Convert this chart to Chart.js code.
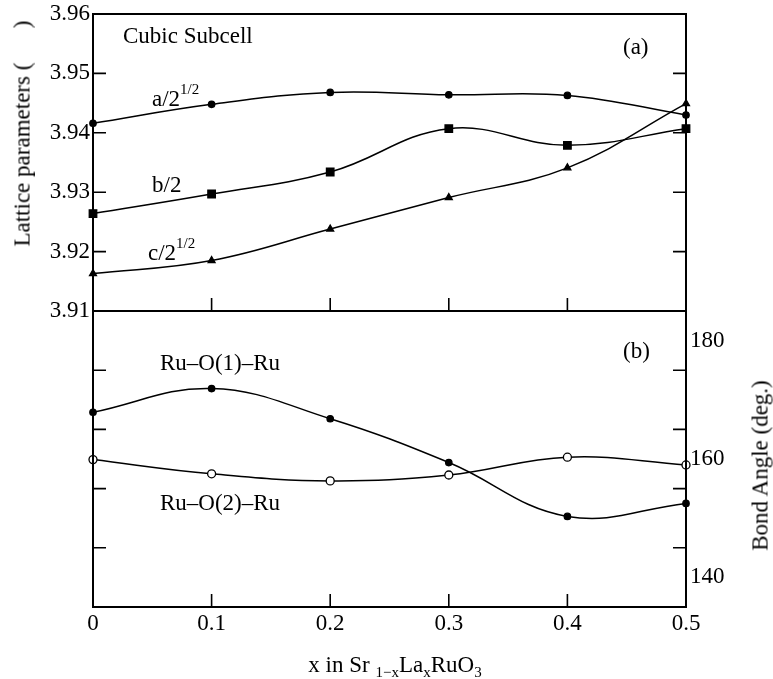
<!DOCTYPE html>
<html>
<head>
<meta charset="utf-8">
<script src="https://cdn.jsdelivr.net/npm/chart.js@4.4.1/dist/chart.umd.min.js"></script>
<style>
  html, body { margin: 0; padding: 0; background: #fff; }
  #wrap { position: relative; width: 773px; height: 679px; overflow: hidden; font-family: "Liberation Serif", "Times New Roman", serif; color: #000; }
  .box { position: absolute; left: 0; width: 773px; }
  .t { position: absolute; font-size: 23px; line-height: 23px; white-space: pre; }
  .sup { position: relative; font-size: 15px; top: -12px; }
  .sub { position: relative; font-size: 15px; top: 5px; }
  .rot { position: absolute; font-size: 23px; line-height: 23px; width: 320px; text-align: center; white-space: pre; transform: rotate(-90deg); transform-origin: 50% 50%; }
</style>
</head>
<body>
<div id="wrap">
  <div class="box" style="top:0;height:330px;"><canvas id="top"></canvas></div>
  <div class="box" style="top:311px;height:368px;"><canvas id="bot"></canvas></div>

  <div class="t" style="left:123px;top:24px;">Cubic Subcell</div>
  <div class="t" style="left:623px;top:35px;">(a)</div>
  <div class="t" style="left:152px;top:87px;">a/2<span class="sup">1/2</span></div>
  <div class="t" style="left:152px;top:173px;">b/2</div>
  <div class="t" style="left:148px;top:241px;">c/2<span class="sup">1/2</span></div>
  <div class="t" style="left:623px;top:339px;">(b)</div>
  <div class="t" style="left:160px;top:351px;">Ru–O(1)–Ru</div>
  <div class="t" style="left:160px;top:491px;">Ru–O(2)–Ru</div>
  <div class="t" style="left:0;width:790px;text-align:center;top:653px;">x in Sr <span class="sub">1−x</span>La<span class="sub">x</span>RuO<span class="sub">3</span></div>
  <div class="rot" style="left:-138px;top:122px;">Lattice parameters (      )</div>
  <div class="rot" style="left:600px;top:454px;">Bond Angle (deg.)</div>
</div>
<script>
// ---- data ----
const xValues = [0, 0.1, 0.2, 0.3, 0.4, 0.5];
const aOverRoot2 = [3.9416, 3.9448, 3.9468, 3.9464, 3.9463, 3.9430];
const bOver2     = [3.9264, 3.9297, 3.9334, 3.9407, 3.9379, 3.9407];
const cOverRoot2 = [3.9163, 3.9185, 3.9238, 3.9291, 3.9341, 3.9449];
const ruO1Ru = [167.9, 171.9, 166.8, 159.4, 150.3, 152.5];
const ruO2Ru = [159.9, 157.5, 156.3, 157.3, 160.3, 159.0];
const latticeTicks = [3.91, 3.92, 3.93, 3.94, 3.95, 3.96];
const angleTickLabels = [140, 160, 180];

const FONT = { family: "'Liberation Serif', 'Times New Roman', serif", size: 23 };
const pts = (ys) => xValues.map((x, i) => ({ x: x, y: ys[i] }));
const noPad = s => { s.paddingTop = 0; s.paddingBottom = 0; s.paddingLeft = 0; s.paddingRight = 0; };

// frame + inward ticks plugin (uses the chart's scales)
const framePlugin = {
  id: 'frame',
  afterDatasetsDraw(chart) {
    const { ctx, chartArea: a } = chart;
    const xs = chart.scales.x, yl = chart.scales.y;
    const L = 13;
    ctx.save();
    ctx.strokeStyle = '#000';
    ctx.lineWidth = 1.6;
    ctx.beginPath();
    yl.ticks.forEach(t => {
      if (t.value <= yl.min || t.value >= yl.max) return;
      const py = yl.getPixelForValue(t.value);
      ctx.moveTo(a.left, py); ctx.lineTo(a.left + L, py);
      ctx.moveTo(a.right, py); ctx.lineTo(a.right - L, py);
    });
    xs.ticks.forEach(t => {
      if (t.value <= xs.min + 1e-9 || t.value >= xs.max - 1e-9) return;
      const px = xs.getPixelForValue(t.value);
      ctx.moveTo(px, a.bottom); ctx.lineTo(px, a.bottom - L);
    });
    ctx.stroke();
    ctx.lineWidth = 2;
    ctx.strokeRect(a.left, a.top, a.right - a.left, a.bottom - a.top);
    ctx.restore();
  }
};

function lineSet(data, style, radius, fill) {
  return {
    data: data,
    borderColor: '#000',
    borderWidth: 1.5,
    tension: 0.4,
    pointStyle: style,
    pointRadius: radius,
    pointHoverRadius: radius,
    pointBackgroundColor: fill,
    pointBorderColor: '#000',
    pointBorderWidth: 1.3,
    clip: false,
    fill: false
  };
}

// ---- top panel ----
new Chart(document.getElementById('top'), {
  type: 'line',
  data: {
    datasets: [
      lineSet(pts(aOverRoot2), 'circle', 3.2, '#000'),
      lineSet(pts(bOver2), 'rect', 5.3, '#000'),
      lineSet(pts(cOverRoot2), 'triangle', 4, '#000')
    ]
  },
  options: {
    responsive: true,
    maintainAspectRatio: false,
    animation: false,
    events: [],
    layout: { autoPadding: false, padding: { top: 14, left: 0, right: 0, bottom: 0 } },
    plugins: { legend: { display: false }, tooltip: { enabled: false } },
    scales: {
      x: {
        type: 'linear', min: 0, max: 0.5,
        ticks: { display: false, stepSize: 0.1 },
        grid: { display: false }, border: { display: false },
        afterFit: s => { s.height = 19; noPad(s); }
      },
      y: {
        position: 'left', min: 3.91, max: 3.96,
        afterBuildTicks: s => { s.ticks = latticeTicks.map(v => ({ value: v })); },
        ticks: { color: '#000', font: FONT, padding: 3, callback: v => v.toFixed(2) },
        grid: { display: false, drawTicks: false }, border: { display: false },
        afterFit: s => { s.width = 93; noPad(s); }
      },
      y2: {
        position: 'right', min: 3.91, max: 3.96,
        ticks: { display: false },
        grid: { display: false }, border: { display: false },
        afterFit: s => { s.width = 87; noPad(s); }
      }
    }
  },
  plugins: [framePlugin]
});

// ---- bottom panel ----
new Chart(document.getElementById('bot'), {
  type: 'line',
  data: {
    datasets: [
      Object.assign(lineSet(pts(ruO1Ru), 'circle', 3.2, '#000'), { yAxisID: 'y2' }),
      Object.assign(lineSet(pts(ruO2Ru), 'circle', 4, '#fff'), { yAxisID: 'y2' })
    ]
  },
  options: {
    responsive: true,
    maintainAspectRatio: false,
    animation: false,
    events: [],
    layout: { autoPadding: false, padding: 0 },
    plugins: { legend: { display: false }, tooltip: { enabled: false } },
    scales: {
      x: {
        type: 'linear', min: 0, max: 0.5,
        afterBuildTicks: s => { s.ticks = xValues.map(v => ({ value: v })); },
        ticks: { color: '#000', font: FONT, padding: 3, maxRotation: 0, callback: v => (v === 0 ? '0' : v.toFixed(1)) },
        grid: { display: false, drawTicks: false }, border: { display: false },
        afterFit: s => { s.height = 72; noPad(s); }
      },
      y: {
        position: 'left', min: 135, max: 185,
        ticks: { display: false, stepSize: 10 },
        grid: { display: false, drawTicks: false }, border: { display: false },
        afterFit: s => { s.width = 93; noPad(s); }
      },
      y2: {
        position: 'right', min: 135, max: 185,
        afterBuildTicks: s => { s.ticks = angleTickLabels.map(v => ({ value: v })); },
        ticks: { color: '#000', font: FONT, padding: 4 },
        grid: { display: false, drawTicks: false }, border: { display: false },
        afterFit: s => { s.width = 87; noPad(s); }
      }
    }
  },
  plugins: [framePlugin]
});
</script>
</body>
</html>
